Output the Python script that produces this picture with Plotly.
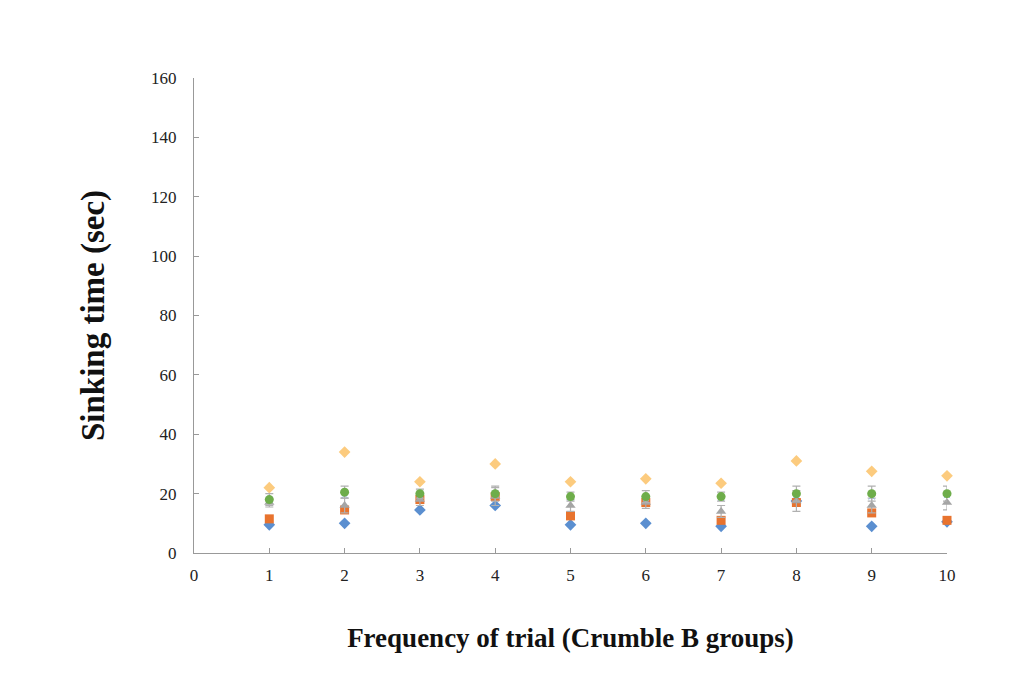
import plotly.graph_objects as go

trials = [1, 2, 3, 4, 5, 6, 7, 8, 9, 10]
blue_diamond = [9.5, 10, 14.5, 16, 9.5, 10, 9, 17.5, 9, 10.5]
orange_square = [11.5, 14.5, 18, 19, 12.5, 17, 11, 17, 13.5, 11]
gray_triangle = [17, 16, 18, 19, 16, 17, 14, 17.5, 16, 17]
gold_diamond = [22, 34, 24, 30, 24, 25, 23.5, 31, 27.5, 26]
lightblue_x = [18, 19.5, 19.5, 20, 18.5, 18.5, 18.5, 19.5, 19, 19.5]
green_circle = [18, 20.5, 20, 20, 19, 19, 19, 20, 20, 20]
err_gray = [1.5, 2.5, 2, 3, 2, 2, 2, 3.5, 2.5, 2.5]
err_green = [2, 2, 1.5, 2.5, 1.5, 2, 1.5, 2.5, 2.5, 2.5]

y_ticks = [0, 20, 40, 60, 80, 100, 120, 140, 160]
x_ticks = [0, 1, 2, 3, 4, 5, 6, 7, 8, 9, 10]

fig = go.Figure()

def add(y, color, symbol, size, err=None):
    kw = {}
    if err is not None:
        kw["error_y"] = dict(type="data", array=err, visible=True, color="#b0b0b0", thickness=1.2, width=4)
    fig.add_trace(go.Scatter(x=trials, y=y, mode="markers",
                             marker=dict(color=color, symbol=symbol, size=size, line=dict(width=0)),
                             cliponaxis=False, showlegend=False, **kw))

add(blue_diamond, "#5B8FD0", "diamond", 9)
add(orange_square, "#E8732E", "square", 9)
add(gray_triangle, "#A5A5A5", "triangle-up", 9, err_gray)
add(gold_diamond, "#FCCB7E", "diamond", 9)
add(lightblue_x, "#8DB8E2", "x-thin-open", 6)
add(green_circle, "#6EAD4A", "circle", 9, err_green)

fig.update_layout(
    width=1021, height=676,
    margin=dict(l=186, r=82, t=70, b=131),
    paper_bgcolor="white", plot_bgcolor="white",
    font=dict(family="Liberation Serif", size=17, color="#222"),
    xaxis=dict(range=[0, 10], tickvals=x_ticks, showgrid=False, zeroline=False,
               showline=True, linecolor="#999", linewidth=1, ticks="inside", ticklen=5,
               tickcolor="#999", ticklabelstandoff=7, automargin=False,
               title=dict(text="<b>Frequency of trial (Crumble B groups)</b>",
                          font=dict(family="Liberation Serif", size=27, color="#111"), standoff=43)),
    yaxis=dict(range=[0, 160], tickvals=y_ticks, showgrid=False, zeroline=False,
               showline=True, linecolor="#999", linewidth=1, ticks="inside", ticklen=5,
               tickcolor="#999", ticklabelstandoff=13, automargin=False,
               title=dict(text="<b>Sinking time (sec)</b>",
                          font=dict(family="Liberation Serif", size=33, color="#111"), standoff=36)),
)

fig.write_html("out.html")
